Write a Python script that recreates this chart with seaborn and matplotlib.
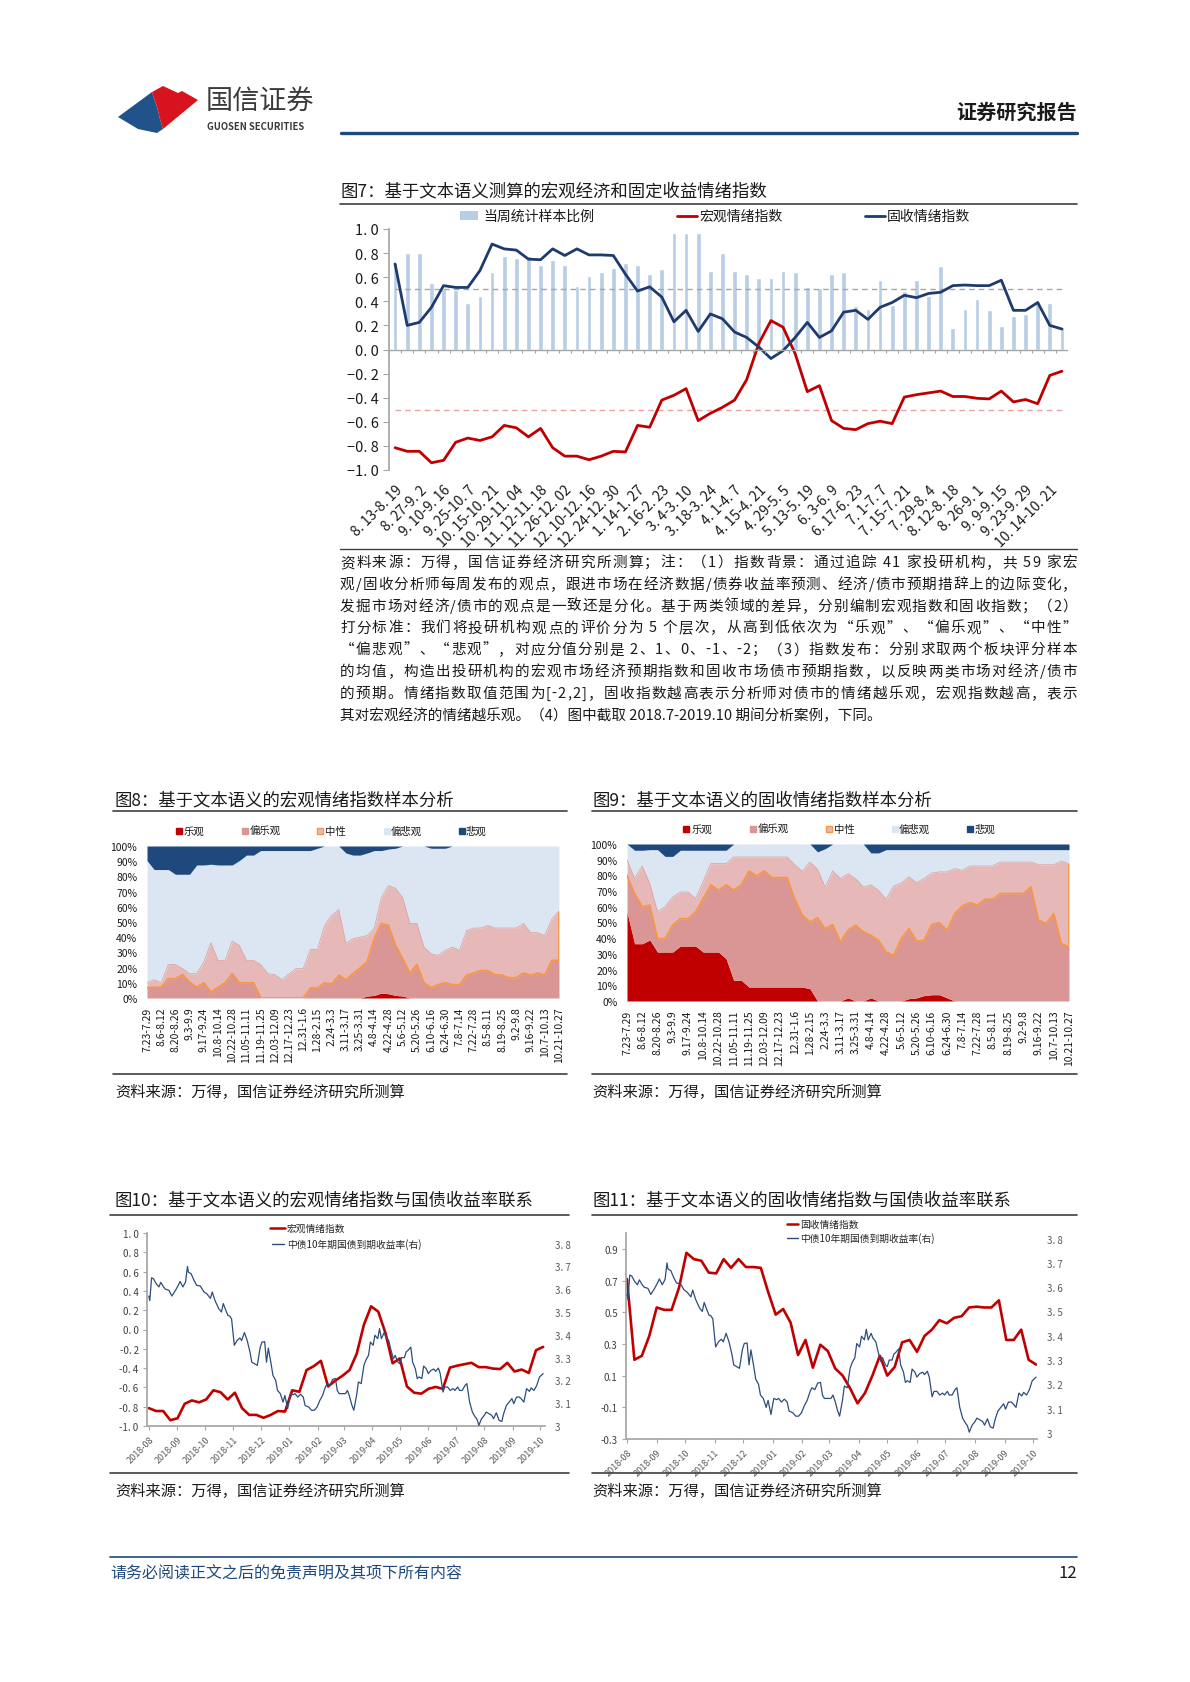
import numpy as np
import pandas as pd
import matplotlib
matplotlib.use("Agg")
import matplotlib.pyplot as plt
import matplotlib.dates as mdates
from matplotlib.patches import Polygon, Rectangle
from matplotlib.lines import Line2D
from matplotlib.font_manager import FontProperties
import seaborn as sns

sns.set_theme(style="white")
plt.rcParams['font.family'] = ['Noto Sans CJK SC', 'DejaVu Sans']
plt.rcParams['axes.unicode_minus'] = False

# ---------------- data ----------------
# fig 7: weekly sample ratio and the two sentiment indices
week_labels = ["8.13-8.19", "8.27-9.2", "9.10-9.16", "9.25-10.7", "10.15-10.21",
               "10.29-11.04", "11.12-11.18", "11.26-12.02", "12.10-12.16", "12.24-12.30",
               "1.14-1.27", "2.16-2.23", "3.4-3.10", "3.18-3.24", "4.1-4.7", "4.15-4.21",
               "4.29-5.5", "5.13-5.19", "6.3-6.9", "6.17-6.23", "7.1-7.7", "7.15-7.21",
               "7.29-8.4", "8.12-8.18", "8.26-9.1", "9.9-9.15", "9.23-9.29", "10.14-10.21"]
sample_ratio = [0.72, 0.80, 0.80, 0.555, 0.50, 0.495, 0.39, 0.44, 0.645, 0.775,
                0.76, 0.775, 0.70, 0.745, 0.70, 0.53, 0.61, 0.64, 0.675, 0.72,
                0.705, 0.625, 0.67, 0.97, 0.97, 0.97, 0.65, 0.80, 0.65, 0.625,
                0.59, 0.59, 0.65, 0.64, 0.52, 0.51, 0.625, 0.64, 0.36, 0.34,
                0.575, 0.37, 0.485, 0.575, 0.445, 0.69, 0.18, 0.34, 0.42, 0.33,
                0.195, 0.275, 0.295, 0.40, 0.39, 0.19]
macro_idx = [-0.815, -0.845, -0.845, -0.94, -0.92, -0.77, -0.735, -0.755, -0.725, -0.63,
             -0.65, -0.725, -0.655, -0.815, -0.885, -0.885, -0.915, -0.885, -0.845, -0.85,
             -0.63, -0.645, -0.42, -0.38, -0.325, -0.59, -0.53, -0.48, -0.42, -0.25,
             0.05, 0.24, 0.185, -0.035, -0.35, -0.30, -0.59, -0.655, -0.665, -0.615,
             -0.595, -0.615, -0.395, -0.375, -0.36, -0.345, -0.39, -0.39, -0.405, -0.41,
             -0.345, -0.435, -0.415, -0.45, -0.215, -0.18]
fi_idx = [0.71, 0.20, 0.225, 0.35, 0.53, 0.515, 0.515, 0.655, 0.875, 0.835,
          0.825, 0.75, 0.745, 0.835, 0.78, 0.835, 0.785, 0.785, 0.78, 0.625,
          0.485, 0.52, 0.435, 0.23, 0.325, 0.15, 0.295, 0.255, 0.145, 0.10,
          0.02, -0.075, -0.01, 0.10, 0.225, 0.10, 0.155, 0.31, 0.325, 0.25,
          0.35, 0.39, 0.45, 0.43, 0.465, 0.475, 0.53, 0.535, 0.53, 0.53,
          0.575, 0.325, 0.325, 0.39, 0.20, 0.17]

# fig 8 / fig 9: cumulative shares (%) of 乐观 / 偏乐观 / 中性 / 偏悲观, 悲观 fills to 100
period_labels = ["7.23-7.29", "8.6-8.12", "8.20-8.26", "9.3-9.9", "9.17-9.24", "10.8-10.14",
                 "10.22-10.28", "11.05-11.11", "11.19-11.25", "12.03-12.09", "12.17-12.23",
                 "12.31-1.6", "1.28-2.15", "2.24-3.3", "3.11-3.17", "3.25-3.31", "4.8-4.14",
                 "4.22-4.28", "5.6-5.12", "5.20-5.26", "6.10-6.16", "6.24-6.30", "7.8-7.14",
                 "7.22-7.28", "8.5-8.11", "8.19-8.25", "9.2-9.8", "9.16-9.22", "10.7-10.13",
                 "10.21-10.27"]
macro_opt = [0] * 31 + [1.3, 1.7, 3.3, 2.8, 1.7, 1.3] + [0] * 22
macro_semiopt = [6.8, 7, 7, 12.7, 12.7, 15.3, 10.5, 7, 10, 4, 7, 10, 16, 10, 10, 10,
                 0, 0, 0, 0, 0, 0, 0,
                 6.5, 6.5, 10, 9, 15, 12, 16, 19.7, 24, 39, 49, 47.7, 34.5, 26, 16.4, 22,
                 10, 6.8, 8.75, 10, 8.75, 8.75, 15, 16.4, 18, 18, 15.3, 15, 13.3, 13.3,
                 16.4, 15, 16.4, 15, 24.7, 24.7]
macro_neutral = [10, 12, 10, 22, 22, 19.3, 16, 16, 23.6, 36.3, 24.7, 24.7, 37.4, 34.6,
                 24.7, 24.7, 22, 16, 15.3, 12, 16, 19.3, 19.3, 32, 32, 47.7, 54.3, 58.2,
                 36, 39, 40, 41, 46, 66, 74, 72, 66, 49, 49, 33.5, 29, 28, 31.3, 33.5,
                 31.3, 44.4, 46, 46, 47.7, 46, 46, 46, 46, 49, 43, 43, 41, 52, 57]
macro_semipess = [90.4, 84.5, 84.5, 84.5, 81.4, 81.4, 81.4, 87.5, 87.5, 88, 87.5, 87.5,
                  87.5, 90.4, 94, 94, 97, 97, 97, 97, 97, 97, 97, 97, 98.5, 100, 100,
                  100, 95.4, 94, 94, 95.4, 97, 97, 98, 98.5, 100, 100, 100, 100, 98.5,
                  98.5, 98.5] + [100] * 16

fi_opt = [56.7, 36.5, 36.5, 38.9, 31.2, 31.2, 31.2, 35, 35, 35, 31.2, 31.2, 31.2, 27,
          13.2, 13.2, 8.9, 8.9, 8.9, 8.9, 8.9, 8.9, 8.9, 8.9, 7.9, 0, 0, 0, 0, 2, 0, 0,
          2, 0, 0, 0, 0, 1.5, 2, 3.5, 4, 4, 2] + [0] * 16
fi_semiopt = [80, 68.4, 60, 61, 39.7, 39.7, 48.2, 52.4, 52.4, 56.7, 65.2, 74, 70.5, 74,
              70.5, 74, 82.8, 79.6, 82.8, 78.6, 78.6, 78.6, 65.2, 54.6, 50.3, 52.9, 46,
              48.6, 37.6, 45, 48.2, 44, 41.8, 38.6, 31.2, 29, 39.7, 46, 38, 38.6, 48.8,
              49.9, 45, 55.6, 60.5, 62.6, 61, 64.8, 64.8, 68.4, 68.4, 68.4, 68.4, 72.6,
              51.4, 49.3, 55.6, 36.5, 34.4]
fi_neutral = [90, 78, 86, 74.7, 57, 60, 66.2, 69.4, 69.4, 65.2, 76.2, 87.5, 87.5, 87.5,
              91.7, 91.7, 91.7, 91.7, 91.7, 91.7, 91.7, 91.7, 86.8, 82.6, 88.5, 83.9,
              72.6, 82.8, 78, 81, 78, 72.6, 74, 70.5, 64.8, 73.2, 75.2, 79, 75.4, 78,
              81.5, 82.2, 82.2, 84.3, 83.2, 86, 86, 86, 86, 88.5, 88.5, 88.5, 88.5, 88.5,
              86.8, 86.8, 86.8, 89, 87.5]
fi_semipess = [100, 96, 96, 96.4, 96.4, 92.1, 92.1, 96, 96, 96, 96, 96, 96, 96] + \
              [100] * 11 + [95, 97, 100, 100, 100, 100, 100, 94.3, 94.3] + [96.4] * 25

# fig 10 / fig 11: 10y CGB yield (%), days after 2018-08-01
yield_day = [0, 1, 3, 5, 8, 11, 13, 16, 18, 22, 25, 29, 32, 34, 37, 40, 42, 43, 46, 49,
             52, 56, 60, 63, 67, 69, 72, 76, 79, 81, 83, 86, 88, 90, 93, 96, 99, 101, 104,
             107, 110, 112, 115, 118, 121, 123, 126, 128, 130, 133, 135, 138, 140, 143,
             146, 148, 151, 154, 157, 159, 162, 165, 168, 170, 174, 177, 180, 183, 186,
             189, 192, 194, 197, 200, 203, 205, 207, 210, 214, 216, 218, 221, 223, 226,
             228, 231, 234, 236, 239, 241, 244, 246, 249, 251, 253, 256, 258, 261, 263,
             266, 268, 271, 273, 275, 278, 280, 282, 285, 287, 290, 292, 294, 297, 299,
             302, 304, 307, 310, 312, 315, 317, 320, 322, 325, 328, 331, 333, 336, 338,
             341, 344, 346, 349, 352, 355, 357, 359, 362, 365, 367, 370, 373, 375, 378,
             381, 384, 386, 389, 392, 395, 397, 400, 403, 405, 408, 411, 414, 416, 419,
             422, 425, 427, 429]
yield_vals = [3.57, 3.55, 3.65, 3.646, 3.624, 3.61, 3.63, 3.61, 3.60, 3.595, 3.57, 3.595,
              3.617, 3.634, 3.61, 3.632, 3.70, 3.675, 3.668, 3.64, 3.617, 3.614, 3.588,
              3.58, 3.56, 3.588, 3.55, 3.515, 3.50, 3.537, 3.515, 3.485, 3.482, 3.47,
              3.354, 3.375, 3.386, 3.375, 3.41, 3.375, 3.325, 3.28, 3.273, 3.266, 3.342,
              3.368, 3.37, 3.28, 3.342, 3.273, 3.222, 3.20, 3.156, 3.142, 3.105, 3.134,
              3.076, 3.142, 3.137, 3.142, 3.127, 3.139, 3.127, 3.09, 3.083, 3.069, 3.069,
              3.083, 3.112, 3.134, 3.17, 3.186, 3.178, 3.205, 3.208, 3.156, 3.142, 3.142,
              3.142, 3.156, 3.134, 3.09, 3.069, 3.134, 3.193, 3.186, 3.266, 3.288, 3.31,
              3.368, 3.354, 3.398, 3.383, 3.427, 3.383, 3.41, 3.39, 3.375, 3.34, 3.295,
              3.31, 3.28, 3.273, 3.30, 3.30, 3.325, 3.332, 3.346, 3.28, 3.25, 3.208, 3.215,
              3.208, 3.263, 3.25, 3.23, 3.244, 3.25, 3.24, 3.254, 3.23, 3.149, 3.171, 3.171,
              3.156, 3.164, 3.156, 3.171, 3.156, 3.156, 3.178, 3.186, 3.105, 3.061, 3.04,
              3.03, 3.003, 3.032, 3.047, 3.061, 3.054, 3.047, 3.032, 3.058, 3.025, 3.02,
              3.054, 3.09, 3.105, 3.12, 3.098, 3.127, 3.127, 3.12, 3.105, 3.164, 3.152,
              3.167, 3.156, 3.178, 3.215, 3.222, 3.23]

legend8 = ["乐观", "偏乐观", "中性", "偏悲观", "悲观"]

note_lines = [
    "资料来源：万得，国信证券经济研究所测算；注：（1）指数背景：通过追踪 41 家投研机构，共 59 家宏",
    "观/固收分析师每周发布的观点，跟进市场在经济数据/债券收益率预测、经济/债市预期措辞上的边际变化，",
    "发掘市场对经济/债市的观点是一致还是分化。基于两类领域的差异，分别编制宏观指数和固收指数；（2）",
    "打分标准：我们将投研机构观点的评价分为 5 个层次，从高到低依次为“乐观”、“偏乐观”、“中性”",
    "“偏悲观”、“悲观”，对应分值分别是 2、1、0、-1、-2；（3）指数发布：分别求取两个板块评分样本",
    "的均值，构造出投研机构的宏观市场经济预期指数和固收市场债市预期指数，以反映两类市场对经济/债市",
    "的预期。情绪指数取值范围为[-2,2]，固收指数越高表示分析师对债市的情绪越乐观，宏观指数越高，表示",
    "其对宏观经济的情绪越乐观。（4）图中截取 2018.7-2019.10 期间分析案例，下同。",
]

# ---------------- colours ----------------
red_c = "#C00000"
navy_c = "#1F3B6E"
bar_c = "#B9CDE5"
pink_d = "#D99694"
pink_l = "#E6B9B8"
blue_l = "#DCE6F2"
navy_a = "#1F497D"
orange = "#F79646"
yld_c = "#2E4D7B"
grey = "#404040"
tick_c = "#A6A6A6"

W, H = 1190, 1683
fig = plt.figure(figsize=(W / 100, H / 100), dpi=100)


def box(x0, y0, x1, y1):
    return fig.add_axes([x0 / W, 1 - y1 / H, (x1 - x0) / W, (y1 - y0) / H])


def ftext(x, y, s, **kw):
    kw.setdefault("va", "center")
    return fig.text(x / W, 1 - y / H, s, **kw)


def fline(x0, x1, y0, y1=None, **kw):
    y1 = y0 if y1 is None else y1
    fig.add_artist(Line2D([x0 / W, x1 / W], [1 - y0 / H, 1 - y1 / H], **kw))


def frect(x, y, w, h, **kw):
    fig.add_artist(Rectangle((x / W, 1 - (y + h) / H), w / W, h / H,
                             transform=fig.transFigure, **kw))


def fpoly(pts, **kw):
    fig.add_artist(Polygon([(px / W, 1 - py / H) for px, py in pts],
                           closed=True, transform=fig.transFigure, **kw))


def spaced(v, fmt="{:.1f}"):
    # the report font renders "0.8" as "0. 8"
    return fmt.format(v + 0.0).replace(".", ". ")


# ---------------- header ----------------
fpoly([(118, 118), (152, 93), (157, 108), (160, 120), (163, 130), (157, 134), (138, 130)],
      color="#22528A", lw=0)
fpoly([(152, 93), (163, 87), (178, 94), (182, 92), (198, 101), (163, 130), (160, 120),
       (157, 108)], color="#D7141E", lw=0)
ftext(206, 102, "国信证券", fontsize=19.5, color="#3A3A3A", fontweight="medium")
ftext(207, 127, "GUOSEN SECURITIES", fontsize=6.8, color="#3A3A3A", fontweight="bold")
ftext(1077, 112, "证券研究报告", fontsize=14.5, fontweight="bold", color="#1A1A1A", ha="right")
fline(341, 1077, 134, color="#1F497D", lw=2.4)

# ---------------- fig 7 ----------------
ftext(340, 191, "图7：基于文本语义测算的宏观经济和固定收益情绪指数", fontsize=12.5, color="#1A1A1A")
fline(340, 1077, 205, color=grey, lw=1.2)

ax7 = box(389, 230, 1068, 471)
xw = np.arange(len(sample_ratio))
sns.barplot(x=xw, y=sample_ratio, ax=ax7, color=bar_c, width=0.4, saturation=1)
ax7.hlines([0.5], 0, len(xw) - 1, colors="#A6A6A6", linestyles=(0, (4, 3)), lw=1)
ax7.hlines([-0.5], 0, len(xw) - 1, colors="#E8A3A3", linestyles=(0, (4, 3)), lw=1)
sns.lineplot(x=xw, y=macro_idx, ax=ax7, color=red_c, lw=2)
sns.lineplot(x=xw, y=fi_idx, ax=ax7, color=navy_c, lw=2)
ax7.axhline(0, color=tick_c, lw=1)
ax7.vlines(np.arange(len(xw) + 1) - 0.5, -0.03, 0, color=tick_c, lw=0.8)
ax7.set_xlim(-0.5, len(xw) - 0.5)
ax7.set_ylim(-1, 1)
yt = np.round(np.arange(-1, 1.01, 0.2), 1)
ax7.set_yticks(yt)
ax7.set_yticklabels([spaced(v).replace("-", "−") for v in yt])
ax7.set_xticks(xw[::2])
ax7.set_xticklabels([s.replace(".", ". ") for s in week_labels],
                    rotation=45, ha="right", rotation_mode="anchor")
ax7.tick_params(axis="x", length=0, pad=9, labelsize=10, labelcolor="#1A1A1A")
ax7.tick_params(axis="y", length=4, color=tick_c, width=0.8, direction="out",
                labelsize=10.5, labelcolor="#1A1A1A", left=True)
for s in ["top", "right", "bottom"]:
    ax7.spines[s].set_visible(False)
ax7.spines["left"].set_color(tick_c)
ax7.set_xlabel("")
ax7.set_ylabel("")

frect(460, 212, 18, 9, color=bar_c, lw=0)
ftext(483, 217, "当周统计样本比例", fontsize=10, color="#1A1A1A")
fline(677, 697, 217, color=red_c, lw=2)
ftext(699, 217, "宏观情绪指数", fontsize=10, color="#1A1A1A")
fline(865, 885, 217, color=navy_c, lw=2)
ftext(887, 217, "固收情绪指数", fontsize=10, color="#1A1A1A")

fline(340, 1077, 550, color=grey, lw=1)

# justified note paragraph
rend = fig.canvas.get_renderer()
note_prop = FontProperties(family=["Noto Sans CJK SC", "DejaVu Sans"], size=10.5)
for i, line in enumerate(note_lines):
    y = 563 + i * 21.8
    if i == len(note_lines) - 1:
        ftext(340, y, line, fontproperties=note_prop, color="#1A1A1A")
        continue
    ws = [rend.get_text_width_height_descent(c, note_prop, ismath=False)[0] for c in line]
    gap = (1077 - 340 - sum(ws)) / (len(line) - 1)
    xc = 340
    for c, wc in zip(line, ws):
        ftext(xc, y, c, fontproperties=note_prop, color="#1A1A1A")
        xc += wc + gap


# ---------------- fig 8 / fig 9 ----------------
def stack_panel(ax, c1, c2, c3, c4):
    x = np.arange(len(c1))
    c1, c2, c3, c4 = map(np.asarray, (c1, c2, c3, c4))
    ax.fill_between(x, 0, c1, color=red_c, lw=0)
    ax.fill_between(x, c1, c2, color=pink_d, lw=0)
    ax.fill_between(x, c2, c3, color=pink_l, lw=0)
    ax.fill_between(x, c3, c4, color=blue_l, lw=0)
    ax.fill_between(x, c4, 100, color=navy_a, lw=0)
    sns.lineplot(x=x, y=c3, ax=ax, color="#DDA3A3", lw=0.6)
    sns.lineplot(x=x, y=c2, ax=ax, color=orange, lw=1.3)
    ax.vlines(x[-1], c2[-1], c3[-1], color=orange, lw=1.3)
    ax.set_xlim(0, len(x) - 1)
    ax.set_ylim(0, 100)
    ax.set_yticks(np.arange(0, 101, 10))
    ax.set_yticklabels([f"{v}%" for v in range(0, 101, 10)])
    ax.set_xticks(x[::2])
    ax.set_xticklabels(period_labels, rotation=90, ha="center", va="top")
    ax.tick_params(axis="x", length=0, pad=6, labelsize=7.5, labelcolor="#1A1A1A")
    ax.tick_params(axis="y", length=0, pad=7, labelsize=7.5, labelcolor="#1A1A1A")
    for s in ax.spines.values():
        s.set_visible(False)
    ax.set_xlabel("")
    ax.set_ylabel("")


def legend5(xs, y):
    cols = [(red_c, red_c), (pink_d, pink_d), (pink_l, orange), (blue_l, blue_l), (navy_a, navy_a)]
    for (sx, tx), (fc, ec), lab in zip(xs, cols, legend8):
        frect(sx, y - 3, 6, 6, facecolor=fc, edgecolor=ec, lw=1)
        ftext(tx, y, lab, fontsize=7.5, color="#1A1A1A")


ftext(115, 800, "图8：基于文本语义的宏观情绪指数样本分析", fontsize=12.5, color="#1A1A1A")
fline(113, 567, 812, color=grey, lw=1.2)
ax8 = box(147, 847, 559, 999)
stack_panel(ax8, macro_opt, macro_semiopt, macro_neutral, macro_semipess)
legend5([(176, 184), (242, 250), (317, 325), (384, 391), (459, 466)], 832)
fline(113, 567, 1075, color=grey, lw=1.2)
ftext(115, 1092, "资料来源：万得，国信证券经济研究所测算", fontsize=11, color="#1A1A1A")

ftext(592, 800, "图9：基于文本语义的固收情绪指数样本分析", fontsize=12.5, color="#1A1A1A")
fline(592, 1077, 812, color=grey, lw=1.2)
ax9 = box(627, 845, 1069, 1002)
stack_panel(ax9, fi_opt, fi_semiopt, fi_neutral, fi_semipess)
legend5([(683, 692), (750, 758), (826, 834), (892, 899), (967, 975)], 830)
fline(592, 1077, 1075, color=grey, lw=1.2)
ftext(592, 1092, "资料来源：万得，国信证券经济研究所测算", fontsize=11, color="#1A1A1A")

# ---------------- fig 10 / fig 11 ----------------
base = pd.Timestamp("2018-08-01")
yield_dates = base + pd.to_timedelta(yield_day, unit="D")
idx_dates = base + pd.to_timedelta(np.linspace(0, yield_day[-1], len(macro_idx)), unit="D")


def dual_panel(ax, idx, ylim_l, yt_l, ylim_r, xlim_days, space_left):
    sns.lineplot(x=idx_dates, y=idx, ax=ax, color=red_c, lw=1.9)
    ax.set_ylim(*ylim_l)
    ax.set_yticks(yt_l)
    ax.set_yticklabels([spaced(v) if space_left else f"{v + 0.0:.1f}" for v in yt_l])
    axr = ax.twinx()
    sns.lineplot(x=yield_dates, y=yield_vals, ax=axr, color=yld_c, lw=0.9)
    axr.set_ylim(*ylim_r)
    yr = np.round(np.arange(3.0, 3.81, 0.1), 1)
    axr.set_yticks(yr)
    axr.set_yticklabels(["3"] + [spaced(v) for v in yr[1:]])
    ax.set_xlim(base + pd.Timedelta(days=xlim_days[0]), base + pd.Timedelta(days=xlim_days[1]))
    ax.xaxis.set_major_locator(mdates.MonthLocator())
    ax.xaxis.set_major_formatter(mdates.DateFormatter("%Y-%m"))
    for lab in ax.get_xticklabels():
        lab.set_rotation(45)
        lab.set_ha("right")
        lab.set_rotation_mode("anchor")
    ax.tick_params(axis="x", length=3, color=tick_c, width=0.8, pad=3, labelsize=6.5,
                   labelcolor="#595959", bottom=True)
    ax.tick_params(axis="y", length=3, color=tick_c, width=0.8, pad=3, labelsize=7,
                   labelcolor="#404040", left=True)
    axr.tick_params(axis="y", length=0, pad=7, labelsize=7, labelcolor="#595959")
    for s in ["top", "right"]:
        ax.spines[s].set_visible(False)
    for s in axr.spines.values():
        s.set_visible(False)
    ax.spines["left"].set_color(tick_c)
    ax.spines["bottom"].set_color(tick_c)
    for a in (ax, axr):
        a.set_xlabel("")
        a.set_ylabel("")
    return axr


ftext(115, 1200, "图10：基于文本语义的宏观情绪指数与国债收益率联系", fontsize=12.5, color="#1A1A1A")
fline(110, 569, 1216, color=grey, lw=1.2)
ax10 = box(147, 1234, 545, 1427)
dual_panel(ax10, macro_idx, (-1, 1), np.round(np.arange(-1, 1.01, 0.2), 1), (3.0, 3.8465),
           (-2, 431), True)
fline(270, 285, 1229, color=red_c, lw=1.8)
ftext(287, 1229, "宏观情绪指数", fontsize=7, color="#262626")
fline(272, 284, 1245, color=yld_c, lw=1)
ftext(287, 1245, "中债10年期国债到期收益率(右)", fontsize=7, color="#262626")
fline(110, 569, 1474, color=grey, lw=1.2)
ftext(115, 1491, "资料来源：万得，国信证券经济研究所测算", fontsize=11, color="#1A1A1A")

ftext(592, 1200, "图11：基于文本语义的固收情绪指数与国债收益率联系", fontsize=12.5, color="#1A1A1A")
fline(592, 1077, 1216, color=grey, lw=1.2)
ax11 = box(626, 1234, 1037, 1440)
dual_panel(ax11, fi_idx, (-0.3, 1.0), np.round(np.arange(-0.3, 0.91, 0.2), 1), (2.975, 3.823),
           (-1, 430), False)
fline(787, 798, 1225, color=red_c, lw=1.8)
ftext(800, 1225, "固收情绪指数", fontsize=7, color="#262626")
fline(787, 798, 1239, color=yld_c, lw=1)
ftext(800, 1239, "中债10年期国债到期收益率(右)", fontsize=7, color="#262626")
fline(592, 1077, 1474, color=grey, lw=1.2)
ftext(592, 1491, "资料来源：万得，国信证券经济研究所测算", fontsize=11, color="#1A1A1A")

# ---------------- footer ----------------
fline(110, 1077, 1558, color="#1F497D", lw=1.2)
ftext(110, 1574, "请务必阅读正文之后的免责声明及其项下所有内容", fontsize=11.5, color="#1F497D",
      style="italic")
ftext(1077, 1574, "12", fontsize=12, color="#1A1A1A", ha="right")

fig.savefig("out.png", dpi=100, facecolor="white")
